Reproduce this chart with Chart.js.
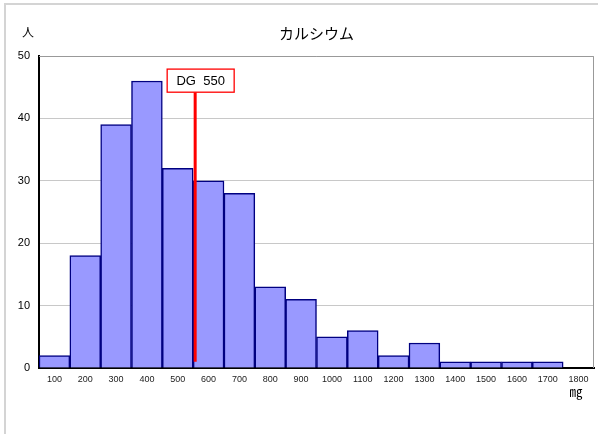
<!DOCTYPE html>
<html lang="ja">
<head>
<meta charset="UTF-8">
<title>カルシウム</title>
<script src="https://cdn.jsdelivr.net/npm/chart.js"></script>
<style>
  body { margin: 0; background: #fff; }
  .wrap { position: relative; width: 598px; height: 434px; overflow: hidden; }
  .frame {
    position: absolute; left: 4px; top: 3px;
    width: 640px; height: 480px;
    border-left: 2px solid #d4d4d4; border-top: 2px solid #d4d4d4;
  }
  canvas { position: absolute; left: 0; top: 0; }
</style>
</head>
<body>
<div class="wrap">
  <div class="frame"></div>
  <canvas id="chart" width="598" height="434"></canvas>
</div>
<script>
// x labels (mg) and number of people per bin
const binLabels = ['100', '200', '300', '400', '500', '600', '700', '800', '900',
  '1000', '1100', '1200', '1300', '1400', '1500', '1600', '1700', '1800'];
const counts = [2, 18, 39, 46, 32, 30, 28, 13, 11, 5, 6, 2, 4, 1, 1, 1, 1, 0];
const yTicks = [0, 10, 20, 30, 40, 50];
const dgValue = 550;
const titleText = 'カルシウム';
const yUnit = '人';
const xUnit = '㎎';

const latin = '"Liberation Sans", Arial, sans-serif';
const jp = '"Noto Sans CJK JP", sans-serif';

// title, units, plot frame and DG marker
const extras = {
  id: 'extras',
  afterDraw(chart) {
    const ctx = chart.ctx;
    const a = chart.chartArea;
    const xs = chart.scales.x;
    const ys = chart.scales.y;
    ctx.save();

    // grey top / right edge of plot
    ctx.strokeStyle = '#999';
    ctx.lineWidth = 1;
    ctx.beginPath();
    ctx.moveTo(a.left, a.top + 0.5);
    ctx.lineTo(a.right - 0.5, a.top + 0.5);
    ctx.lineTo(a.right - 0.5, a.bottom);
    ctx.stroke();

    ctx.fillStyle = '#000';
    ctx.textAlign = 'center';
    ctx.textBaseline = 'middle';
    ctx.font = '15px ' + jp;
    ctx.fillText(titleText, (a.left + a.right) / 2, 33);
    ctx.font = '12px ' + jp;
    ctx.fillText(yUnit, 28, 32);
    ctx.font = '13px ' + jp;
    ctx.fillText(xUnit, 576, 391);

    // DG line between the 500 and 600 bins
    const i0 = binLabels.indexOf('500');
    const p0 = xs.getPixelForValue(i0);
    const p1 = xs.getPixelForValue(i0 + 1);
    const lx = p0 + (p1 - p0) * (dgValue - 500) / 100 + 2;
    const boxTop = ys.getPixelForValue(47.9);
    const boxBot = ys.getPixelForValue(44.2);
    ctx.strokeStyle = '#ff0000';
    ctx.lineWidth = 3;
    ctx.beginPath();
    ctx.moveTo(lx, boxBot);
    ctx.lineTo(lx, ys.getPixelForValue(1));
    ctx.stroke();

    const bw = 67;
    const bx = lx - 28;
    ctx.fillStyle = '#fff';
    ctx.fillRect(bx, boxTop, bw, boxBot - boxTop);
    ctx.lineWidth = 1.3;
    ctx.strokeRect(bx, boxTop, bw, boxBot - boxTop);
    ctx.fillStyle = '#000';
    ctx.font = '13px ' + latin;
    ctx.fillText('DG  ' + dgValue, bx + bw / 2, (boxTop + boxBot) / 2 + 1);
    ctx.restore();
  }
};

new Chart(document.getElementById('chart'), {
  type: 'bar',
  data: {
    labels: binLabels,
    datasets: [{
      data: counts,
      backgroundColor: '#9999ff',
      borderColor: '#000080',
      borderWidth: 1.5,
      barPercentage: 1,
      categoryPercentage: 1
    }]
  },
  options: {
    responsive: false,
    animation: false,
    layout: { padding: { left: 0, right: 4, top: 56, bottom: 0 } },
    plugins: {
      legend: { display: false },
      title: { display: false },
      tooltip: { enabled: false }
    },
    scales: {
      x: {
        grid: { display: false, drawTicks: false },
        border: { display: true, color: '#000', width: 2 },
        ticks: {
          color: '#222',
          font: { family: latin, size: 9 },
          maxRotation: 0,
          autoSkip: false,
          padding: 6
        },
        afterFit(s) { s.height = 66; }
      },
      y: {
        min: 0,
        max: 50,
        afterBuildTicks(s) { s.ticks = yTicks.map(v => ({ value: v })); },
        grid: { color: '#c8c8c8', drawTicks: false },
        border: { display: true, color: '#000', width: 2 },
        ticks: {
          color: '#000',
          font: { family: latin, size: 11 },
          padding: 9
        },
        afterFit(s) { s.width = 39; }
      }
    }
  },
  plugins: [extras]
});
</script>
</body>
</html>
